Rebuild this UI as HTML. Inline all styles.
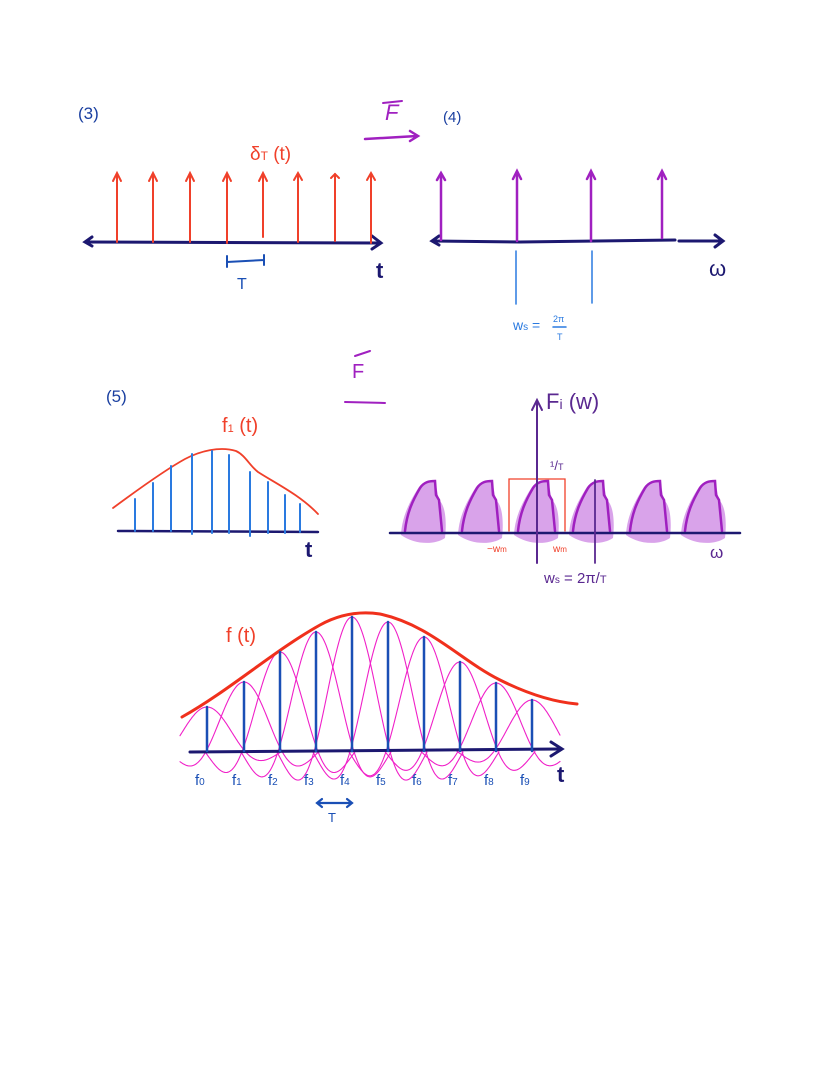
<!DOCTYPE html>
<html><head><meta charset="utf-8"><style>
html,body{margin:0;padding:0;background:#fff;}
svg{display:block;}
text{font-family:"Liberation Sans",sans-serif;}
</style></head><body>
<svg id="s" width="817" height="1066" viewBox="0 0 817 1066" xmlns="http://www.w3.org/2000/svg">
<g fill="none" stroke-linecap="round">
<text x="78" y="119" font-size="17" fill="#1a3fa0" stroke="none">(3)</text>
<line x1="86" y1="242" x2="380" y2="243" stroke="#1c1870" stroke-width="3"/>
<path d="M92,237 L85,242 L92,246" stroke="#1c1870" stroke-width="3"/>
<path d="M372,236 L381,243 L372,249" stroke="#1c1870" stroke-width="3"/>
<g stroke="#f0402a" stroke-width="2">
<line x1="117" y1="242" x2="117" y2="174"/><path d="M113,181 L117,173 L121,181"/>
<line x1="153" y1="242" x2="153" y2="174"/><path d="M149,181 L153,173 L157,181"/>
<line x1="190" y1="242" x2="190" y2="174"/><path d="M186,181 L190,173 L194,181"/>
<line x1="227" y1="243" x2="227" y2="174"/><path d="M223,181 L227,173 L231,181"/>
<line x1="263" y1="237" x2="263" y2="174"/><path d="M259,181 L263,173 L267,181"/>
<line x1="298" y1="242" x2="298" y2="174"/><path d="M294,180 L298,173 L302,180"/>
<line x1="335" y1="241" x2="335" y2="174"/><path d="M331,178 L335,174 L339,178"/>
<line x1="371" y1="243" x2="371" y2="174"/><path d="M367,180 L371,173 L375,180"/>
</g>
<text x="250" y="160" font-size="19" fill="#f0402a" stroke="none">δ<tspan font-size="12">T</tspan> (t)</text>
<path d="M227,256 L227,267 M227,262 L264,260 M264,255 L264,265" stroke="#1a4fb5" stroke-width="2"/>
<text x="237" y="289" font-size="16" fill="#1a4fb5" stroke="none">T</text>
<text x="376" y="278" font-size="22" font-weight="bold" fill="#1c1870" stroke="none">t</text>
<text x="385" y="120" font-size="22" font-style="italic" fill="#a020c0" stroke="none">F</text>
<line x1="383" y1="103" x2="402" y2="101" stroke="#a020c0" stroke-width="2"/>
<path d="M365,139 L417,136 M410,131 L418,136 L410,141" stroke="#a020c0" stroke-width="2.5"/>
<text x="443" y="122" font-size="15" fill="#1a3fa0" stroke="none">(4)</text>
<line x1="433" y1="241" x2="520" y2="242" stroke="#1c1870" stroke-width="3"/>
<line x1="520" y1="242" x2="675" y2="240" stroke="#1c1870" stroke-width="3"/>
<line x1="679" y1="241" x2="722" y2="241" stroke="#1c1870" stroke-width="3"/>
<path d="M439,236 L432,241 L439,245" stroke="#1c1870" stroke-width="3"/>
<path d="M715,235 L723,241 L715,247" stroke="#1c1870" stroke-width="3"/>
<g stroke="#a020c0" stroke-width="2.5">
<line x1="441" y1="240" x2="441" y2="174"/><path d="M437,180 L441,173 L445,180"/>
<line x1="517" y1="241" x2="517" y2="172"/><path d="M513,179 L517,171 L521,179"/>
<line x1="591" y1="241" x2="591" y2="172"/><path d="M587,179 L591,171 L595,179"/>
<line x1="662" y1="238" x2="662" y2="172"/><path d="M658,179 L662,171 L666,179"/>
</g>
<line x1="516" y1="251" x2="516" y2="304" stroke="#2a7ae0" stroke-width="1.5"/>
<line x1="592" y1="251" x2="592" y2="303" stroke="#2a7ae0" stroke-width="1.5"/>
<text x="709" y="276" font-size="22" fill="#1c1870" stroke="none">ω</text>
<text x="513" y="330" font-size="14" fill="#2a7ae0" stroke="none">w<tspan font-size="10">s</tspan> =</text>
<text x="553" y="322" font-size="9" fill="#2a7ae0" stroke="none">2π</text>
<line x1="553" y1="327" x2="566" y2="327" stroke="#2a7ae0" stroke-width="1.5"/>
<text x="557" y="340" font-size="9" fill="#2a7ae0" stroke="none">T</text>
<text x="106" y="402" font-size="17" fill="#1a3fa0" stroke="none">(5)</text>
<text x="352" y="378" font-size="20" fill="#a020c0" stroke="none">F</text>
<line x1="355" y1="356" x2="370" y2="351" stroke="#a020c0" stroke-width="2"/>
<line x1="345" y1="402" x2="385" y2="403" stroke="#a020c0" stroke-width="2"/>
<text x="222" y="432" font-size="20" fill="#f0402a" stroke="none">f<tspan font-size="11">1</tspan> (t)</text>
<line x1="118" y1="531" x2="318" y2="532" stroke="#1c1870" stroke-width="2.5"/>
<path d="M113,508 C140,488 165,470 185,459 C200,451 220,446 236,451 C245,455 250,466 258,472 C275,483 300,495 318,514" stroke="#f0402a" stroke-width="1.8"/>
<g stroke="#2a7ae0" stroke-width="2">
<line x1="135" y1="531" x2="135" y2="499"/><line x1="153" y1="531" x2="153" y2="483"/>
<line x1="171" y1="531" x2="171" y2="466"/><line x1="192" y1="534" x2="192" y2="454"/>
<line x1="212" y1="533" x2="212" y2="451"/><line x1="229" y1="533" x2="229" y2="455"/>
<line x1="250" y1="536" x2="250" y2="472"/><line x1="268" y1="533" x2="268" y2="482"/>
<line x1="285" y1="533" x2="285" y2="495"/><line x1="300" y1="532" x2="300" y2="504"/>
</g>
<text x="305" y="557" font-size="22" font-weight="bold" fill="#1c1870" stroke="none">t</text>
<g id="humps" fill="#d9a3ea" stroke="none"></g>
<line x1="390" y1="533" x2="740" y2="533" stroke="#1c1870" stroke-width="2.5"/>
<path d="M509,531 L509,479 L565,479 L565,531" stroke="#f0402a" stroke-width="1.3"/>
<line x1="537" y1="563" x2="537" y2="402" stroke="#5a2890" stroke-width="2"/>
<path d="M532,410 L537,400 L542,410" stroke="#5a2890" stroke-width="2"/>
<line x1="595" y1="480" x2="595" y2="563" stroke="#5a2890" stroke-width="1.8"/>
<text x="546" y="409" font-size="22" fill="#5a2890" stroke="none">F<tspan font-size="14">i</tspan> (w)</text>
<text x="550" y="470" font-size="13" fill="#5a2890" stroke="none">¹/<tspan font-size="9">T</tspan></text>
<text x="487" y="552" font-size="10" fill="#f0402a" stroke="none">−w<tspan font-size="8">m</tspan></text>
<text x="553" y="552" font-size="10" fill="#f0402a" stroke="none">w<tspan font-size="8">m</tspan></text>
<text x="544" y="583" font-size="15" fill="#5a2890" stroke="none">w<tspan font-size="10">s</tspan> = 2π/<tspan font-size="11">T</tspan></text>
<text x="710" y="558" font-size="17" fill="#5a2890" stroke="none">ω</text>
<g id="sincs" stroke="#f020c8" stroke-width="1.1"></g>
<path d="M182,717 C230,690 275,650 320,625 C340,614 360,611 380,614 C430,625 460,660 500,680 C530,695 555,702 577,704" stroke="#f0301c" stroke-width="3"/>
<text x="226" y="642" font-size="20" fill="#f0402a" stroke="none">f (t)</text>
<line x1="190" y1="752" x2="560" y2="749" stroke="#1c1870" stroke-width="3"/>
<path d="M551,742 L562,749 L551,756" stroke="#1c1870" stroke-width="3"/>
<text x="557" y="782" font-size="22" font-weight="bold" fill="#1c1870" stroke="none">t</text>
<g id="bars" stroke="#1a4fb5" stroke-width="2.5"></g>
<g id="lbl" fill="#1a4fb5" stroke="none" font-size="15"></g>
<path d="M317,803 L352,803 M322,799 L317,803 L322,807 M347,799 L352,803 L347,807" stroke="#1a4fb5" stroke-width="2.2"/>
<text x="328" y="822" font-size="13" fill="#1a4fb5" stroke="none">T</text>
</g>
<script>
var NS="http://www.w3.org/2000/svg";
function el(t,a,p){var e=document.createElementNS(NS,t);for(var k in a)e.setAttribute(k,a[k]);document.getElementById(p).appendChild(e);return e;}
[405,462,518,573,630,685].forEach(function(x){
 var d="M"+(x-4)+",535 C"+(x-3)+",515 "+(x+6)+",500 "+(x+12)+",490 C"+(x+17)+",482 "+(x+22)+",480 "+(x+30)+",481 L"+(x+32)+",490 L"+(x+34)+",500 C"+(x+40)+",505 "+(x+42)+",520 "+(x+40)+",538 C"+(x+30)+",545 "+(x+10)+",545 "+(x-4)+",535Z";
 el("path",{d:d},"humps");
 el("path",{d:"M"+x+",531 C"+(x+2)+",512 "+(x+8)+",500 "+(x+15)+",488 C"+(x+19)+",482 "+(x+24)+",481 "+(x+30)+",481 L"+(x+31)+",495 L"+(x+34)+",500 L"+(x+37)+",531",fill:"none",stroke:"#a020c0","stroke-width":"2.5"},"humps");
});
var xs=[207,244,280,316,352,388,424,460,496,532],tops=[707,682,652,632,617,622,637,662,683,700];
var y0=751,T=36;
for(var i=0;i<10;i++){
 var x=xs[i],h=y0-tops[i],pts=[];
 for(var u=-75;u<=75;u+=1){var xx=x+u; if(xx<180||xx>560)continue; var a=Math.PI*u/(T*1.05); var s=u==0?1:Math.sin(a)/a; pts.push(xx.toFixed(1)+","+(y0-h*s).toFixed(1));}
 el("polyline",{points:pts.join(" "),fill:"none"},"sincs");
 el("line",{x1:x,y1:y0,x2:x,y2:tops[i]},"bars");
 var t=el("text",{x:x-12,y:785},"lbl"); t.textContent="f"; var ts=document.createElementNS(NS,"tspan"); ts.setAttribute("font-size","10"); ts.textContent=i; t.appendChild(ts);
}
</script>
</svg>
</body></html>
